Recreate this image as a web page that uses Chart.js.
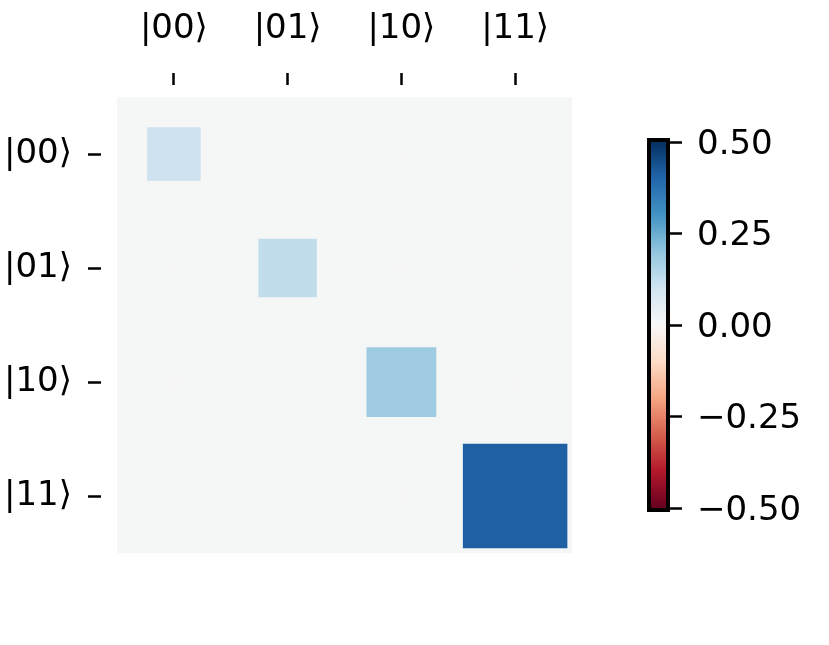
<!DOCTYPE html>
<html>
<head>
<meta charset="utf-8">
<script src="https://cdn.jsdelivr.net/npm/chart.js@4.4.0/dist/chart.umd.min.js"></script>
<style>
body { margin: 0; background: #fff; }
#wrap { position: relative; width: 829px; height: 645px; }
#wrap canvas { position: absolute; left: 0; top: 0; }
</style>
</head>
<body>
<div id="wrap">
<canvas id="matrix" width="829" height="645"></canvas>
<canvas id="colorbar" width="829" height="645"></canvas>
</div>

<script>
var kets = ['|00\u27E9', '|01\u27E9', '|10\u27E9', '|11\u27E9'];

// matrix rows, row i belongs to kets[i]
var row00 = [0.105, 0.0015, -0.002, 0.0015];
var row01 = [-0.002, 0.125, -0.0015, -0.002];
var row10 = [-0.0025, 0.0015, 0.18, -0.003];
var row11 = [0.0015, -0.002, -0.0025, 0.41];

var cbTicks = [-0.5, -0.25, 0, 0.25, 0.5];
var wMax = 0.5;

// RdBu colormap
var rdbu = ['#67001f', '#b2182b', '#d6604d', '#f4a582', '#fddbc7', '#f7f7f7',
            '#d1e5f0', '#92c5de', '#4393c3', '#2166ac', '#053061'];

function hexRgb(h) {
  return [parseInt(h.substr(1, 2), 16), parseInt(h.substr(3, 2), 16), parseInt(h.substr(5, 2), 16)];
}

function rdbuColor(v) {
  var t = (v + wMax) / (2 * wMax);
  t = Math.max(0, Math.min(1, t)) * (rdbu.length - 1);
  var i = Math.min(Math.floor(t), rdbu.length - 2);
  var f = t - i;
  var a = hexRgb(rdbu[i]), b = hexRgb(rdbu[i + 1]);
  var c = a.map(function (x, k) { return Math.round(x + (b[k] - x) * f); });
  return 'rgb(' + c.join(',') + ')';
}

var points = [];
[row00, row01, row10, row11].forEach(function (row, i) {
  row.forEach(function (v, j) { points.push({ x: j, y: i, v: v }); });
});

var font = { family: 'DejaVu Sans', size: 34 };

function cellSide(ctx) {
  var xs = ctx.chart.scales.x;
  var cell = Math.abs(xs.getPixelForValue(1) - xs.getPixelForValue(0));
  return Math.sqrt(Math.min(1, Math.abs(ctx.raw.v) / wMax)) * cell;
}

function pointR(ctx) {
  if (!ctx.raw) return 0;
  return cellSide(ctx) / Math.SQRT2;
}

function pointCol(ctx) {
  return ctx.raw ? rdbuColor(ctx.raw.v) : '#000';
}

var bgPlugin = {
  id: 'bg',
  beforeDatasetsDraw: function (chart) {
    var a = chart.chartArea, c = chart.ctx;
    c.save();
    c.fillStyle = '#f5f6f6';
    c.fillRect(a.left, a.top, a.right - a.left, a.bottom - a.top);
    c.restore();
  }
};

new Chart('matrix', {
  type: 'scatter',
  data: {
    datasets: [{
      data: points,
      pointStyle: 'rect',
      pointRadius: pointR,
      pointHoverRadius: pointR,
      backgroundColor: pointCol,
      borderColor: pointCol,
      borderWidth: 1.5
    }]
  },
  options: {
    responsive: false,
    animation: false,
    events: [],
    layout: { padding: { left: 0, top: 0, right: 257, bottom: 92 } },
    plugins: { legend: { display: false }, tooltip: { enabled: false } },
    scales: {
      x: {
        type: 'linear', position: 'top', min: -0.5, max: 3.5,
        afterBuildTicks: function (s) { s.ticks = kets.map(function (k, i) { return { value: i }; }); },
        afterFit: function (s) { s.height = 97; },
        ticks: { callback: function (v) { return kets[v]; }, font: font, color: '#000', padding: 23, maxRotation: 0, autoSkip: false },
        grid: { drawOnChartArea: false, tickLength: 24, tickWidth: 2.5, tickColor: '#000', tickBorderDash: [12, 12] },
        border: { display: false }
      },
      y: {
        type: 'linear', reverse: true, min: -0.5, max: 3.5,
        afterBuildTicks: function (s) { s.ticks = kets.map(function (k, i) { return { value: i }; }); },
        afterFit: function (s) { s.width = 117; },
        ticks: { callback: function (v) { return kets[v]; }, font: font, color: '#000', padding: 16, autoSkip: false },
        grid: { drawOnChartArea: false, tickLength: 29, tickWidth: 2.5, tickColor: '#000', tickBorderDash: [13, 16] },
        border: { display: false }
      }
    }
  },
  plugins: [bgPlugin]
});

function cbGradient(ctx) {
  var a = ctx.chart.chartArea;
  if (!a) return '#f7f7f7';
  var g = ctx.chart.ctx.createLinearGradient(0, a.bottom, 0, a.top);
  rdbu.forEach(function (c, i) { g.addColorStop(i / (rdbu.length - 1), c); });
  return g;
}

var framePlugin = {
  id: 'frame',
  afterDatasetsDraw: function (chart) {
    var a = chart.chartArea, c = chart.ctx;
    c.save();
    c.strokeStyle = '#000';
    c.lineWidth = 4;
    c.strokeRect(a.left - 2, a.top - 2, a.right - a.left + 4, a.bottom - a.top + 4);
    c.restore();
  }
};

new Chart('colorbar', {
  type: 'bar',
  data: {
    labels: [''],
    datasets: [{
      data: [[cbTicks[0], cbTicks[cbTicks.length - 1]]],
      backgroundColor: cbGradient,
      barPercentage: 1,
      categoryPercentage: 1,
      borderWidth: 0
    }]
  },
  options: {
    responsive: false,
    animation: false,
    events: [],
    layout: { padding: { left: 651, top: 142, bottom: 137, right: 0 } },
    plugins: { legend: { display: false }, tooltip: { enabled: false } },
    scales: {
      x: { display: false },
      y: {
        position: 'right', min: -0.5, max: 0.5,
        afterBuildTicks: function (s) { s.ticks = cbTicks.map(function (v) { return { value: v }; }); },
        afterFit: function (s) { s.width = 163; },
        ticks: {
          font: font, color: '#000', padding: 15, labelOffset: 3,
          callback: function (v) { return (v < 0 ? '\u2212' : '') + Math.abs(v).toFixed(2); }
        },
        grid: { drawOnChartArea: false, tickLength: 16, tickWidth: 2.5, tickColor: '#000' },
        border: { display: false }
      }
    }
  },
  plugins: [framePlugin]
});
</script>
</body>
</html>
